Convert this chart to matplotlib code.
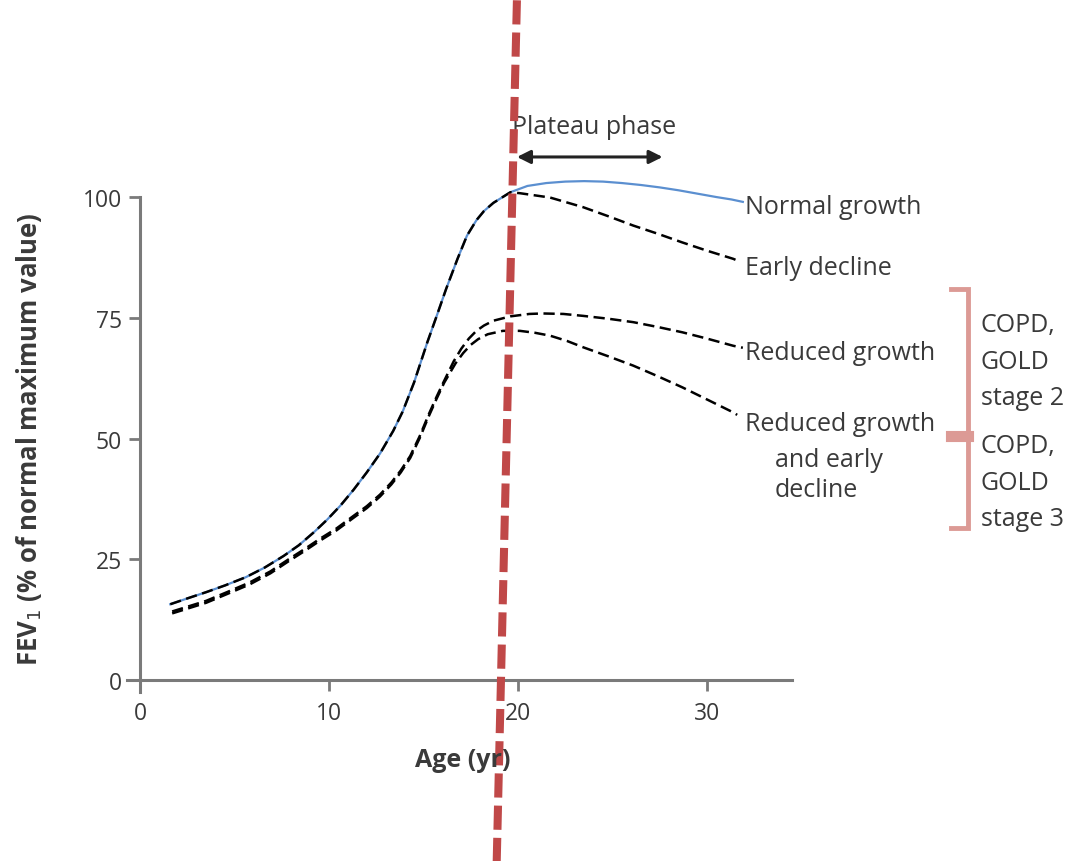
#!/usr/bin/env python3
"""FEV1 trajectories from childhood to early adulthood (Normal vs reduced growth)."""
import matplotlib
matplotlib.use("Agg")
import matplotlib.pyplot as plt

# --- data ------------------------------------------------------------------
normal_age = [1.6, 2.5, 3.5, 4.5, 5.6, 6.6, 7.6, 8.4, 9.2, 9.9, 10.6, 11.3, 12.0,
              12.7, 13.4, 13.9, 14.5, 15.2, 15.7, 16.2, 16.8, 17.3, 17.8, 18.2,
              18.7, 19.6, 20.5, 21.5, 22.5, 23.5, 24.5, 25.5, 26.5, 27.5, 28.5,
              29.5, 30.5, 31.3, 31.9]
normal_fev = [15.7, 16.9, 18.2, 19.6, 21.3, 23.3, 25.7, 27.9, 30.6, 33.2, 36.1, 39.4,
              43.0, 46.9, 51.6, 55.6, 61.6, 69.9, 75.4, 81.0, 87.2, 92.0, 95.2, 97.1,
              98.8, 101.0, 102.3, 102.9, 103.2, 103.3, 103.2, 102.9, 102.5, 102.0,
              101.4, 100.7, 100.0, 99.5, 99.0]

early_age = normal_age[:26] + [20.1, 21.7, 23.45, 24.8, 26.1, 27.4, 28.7, 30.0,
                               31.4, 31.75]
early_fev = normal_fev[:26] + [100.8, 99.9, 97.9, 96.0, 94.1, 92.4, 90.6, 88.9,
                               87.2, 86.6]

reduced_age = [1.7, 2.6, 3.5, 4.6, 5.8, 6.9, 7.9, 8.7, 9.5, 10.4, 11.3, 12.0, 12.7,
               13.3, 13.8, 14.3, 14.8, 15.3, 15.7, 16.05, 16.6, 17.0, 17.4, 17.8,
               18.2, 18.7, 19.6, 20.6, 21.3, 22.4, 23.45, 24.8, 26.1, 27.4, 28.7,
               30.0, 31.4, 31.9]
reduced_fev = [14.2, 15.3, 16.4, 18.2, 20.2, 22.5, 25.1, 27.1, 29.2, 31.4, 34.0, 36.0,
               38.4, 40.9, 43.4, 46.4, 50.5, 55.2, 58.7, 61.6, 66.0, 68.6, 70.7, 72.3,
               73.4, 74.4, 75.3, 75.8, 75.9, 75.8, 75.4, 74.8, 74.1, 73.1, 72.0,
               70.7, 69.2, 68.8]

red_early_age = [1.7, 2.6, 3.5, 4.6, 5.8, 6.9, 7.9, 8.7, 9.5, 10.4, 11.3, 12.0, 12.7,
                 13.3, 13.8, 14.3, 14.8, 15.3, 15.7, 16.1, 16.7, 17.1, 17.5, 17.9,
                 18.4, 19.2, 20.1, 20.9, 21.7, 22.6, 23.45, 24.8, 26.1, 27.4, 28.7,
                 30.0, 31.4, 31.6]
red_early_fev = [13.8, 14.9, 16.0, 17.8, 19.8, 22.1, 24.7, 26.7, 28.8, 31.0, 33.6, 35.6,
                 38.0, 40.5, 43.0, 46.0, 50.1, 54.8, 58.3, 61.6, 65.6, 67.7, 69.4, 70.6,
                 71.6, 72.3, 72.3, 71.9, 71.3, 70.2, 68.9, 67.0, 65.1, 62.9, 60.6,
                 58.1, 55.4, 54.9]

cutoff_age = [19.1, 19.7]      # red dashed line at FEV1 = 0 and 100
cutoff_fev = [0, 100]
plateau_span = [19.8, 27.8]
gold_limits = [81.0, 50.5, 31.5]   # bracket: stage 2 top, stage 2/3, stage 3 bottom

x_ticks = [0, 10, 20, 30]
y_ticks = [0, 25, 50, 75, 100]

# --- figure ----------------------------------------------------------------
plt.rcParams["font.family"] = ["Open Sans", "DejaVu Sans"]
TXT = "#3a3a3a"
SPINE = "#7a7a7a"
BLUE = "#5b8fd0"
RED = "#c04848"
PINK = "#dc9a95"

fig = plt.figure(figsize=(10.73, 8.62), dpi=100)
ax = fig.add_axes([0.1129, 0.1987, 0.634, 0.6836])
ax.set_xlim(-1, 35)
ax.set_ylim(-2, 120)

ax.plot(normal_age, normal_fev, color=BLUE, lw=1.6, zorder=2)
dash = dict(color="black", lw=1.8, dashes=(4.5, 2.2), zorder=3)
ax.plot(early_age, early_fev, **dash)
ax.plot(reduced_age, reduced_fev, **dash)
ax.plot(red_early_age, red_early_fev, **dash)

# spines / ticks
for s in ("top", "right"):
    ax.spines[s].set_visible(False)
ax.spines["left"].set_position(("data", 0))
ax.spines["bottom"].set_position(("data", 0))
ax.spines["left"].set_bounds(-2.5, 100)
ax.spines["bottom"].set_bounds(-0.7, 34.5)
for s in ("left", "bottom"):
    ax.spines[s].set_color(SPINE)
    ax.spines[s].set_linewidth(2.2)
ax.set_xticks(x_ticks)
ax.set_yticks(y_ticks)
ax.tick_params(axis="both", colors=SPINE, width=2, length=8, labelcolor=TXT,
               labelsize=16.5)
ax.tick_params(axis="y", pad=5)
ax.tick_params(axis="x", pad=7)

# curve labels
lab = dict(fontsize=18, color=TXT, va="center", ha="left")
ax.text(32.0, 98.1, "Normal growth", **lab)
ax.text(32.0, 85.5, "Early decline", **lab)
ax.text(32.0, 67.9, "Reduced growth", **lab)
ax.text(32.0, 53.2, "Reduced growth", **lab)
ax.text(33.6, 45.7, "and early", **lab)
ax.text(33.6, 39.5, "decline", **lab)

# plateau phase
ax.text(19.7, 114.7, "Plateau phase", **lab)
ax.annotate("", xy=(plateau_span[1], 108.3), xytext=(plateau_span[0], 108.3),
            arrowprops=dict(arrowstyle="<|-|>", color="#222222", lw=2.2,
                            mutation_scale=20))

# GOLD bracket
bx, bl = 43.8, 42.9
ax.plot([bl, bx, bx, bl], [gold_limits[0], gold_limits[0], gold_limits[2], gold_limits[2]],
        color=PINK, lw=3.5, clip_on=False, solid_joinstyle="miter")
ax.plot([bl, bx], [gold_limits[1], gold_limits[1]], color=PINK, lw=8, clip_on=False)
copd = dict(fontsize=18, color=TXT, va="center", ha="left", linespacing=1.6)
ax.text(44.5, 66.0, "COPD,\nGOLD\nstage 2", **copd)
ax.text(44.5, 41.0, "COPD,\nGOLD\nstage 3", **copd)

# axis titles
fig.text(0.431, 0.118, "Age (yr)", fontsize=18, fontweight="bold", color=TXT,
         ha="center", va="center")
fig.text(0.027, 0.49, "FEV$_1$ (% of normal maximum value)", fontsize=18.5,
         fontweight="bold", color=TXT, rotation=90, ha="center", va="center")

# red cut-off line extending over the whole figure
slope = (cutoff_age[1] - cutoff_age[0]) / (cutoff_fev[1] - cutoff_fev[0])
y_lo, y_hi = -40, 142
ax.plot([cutoff_age[0] + slope * (y_lo - cutoff_fev[0]),
         cutoff_age[0] + slope * (y_hi - cutoff_fev[0])], [y_lo, y_hi],
        color=RED, lw=5.8, dashes=(3.0, 1.0), clip_on=False, zorder=10,
        solid_capstyle="butt", dash_capstyle="butt")

fig.savefig("out.png", dpi=100)
